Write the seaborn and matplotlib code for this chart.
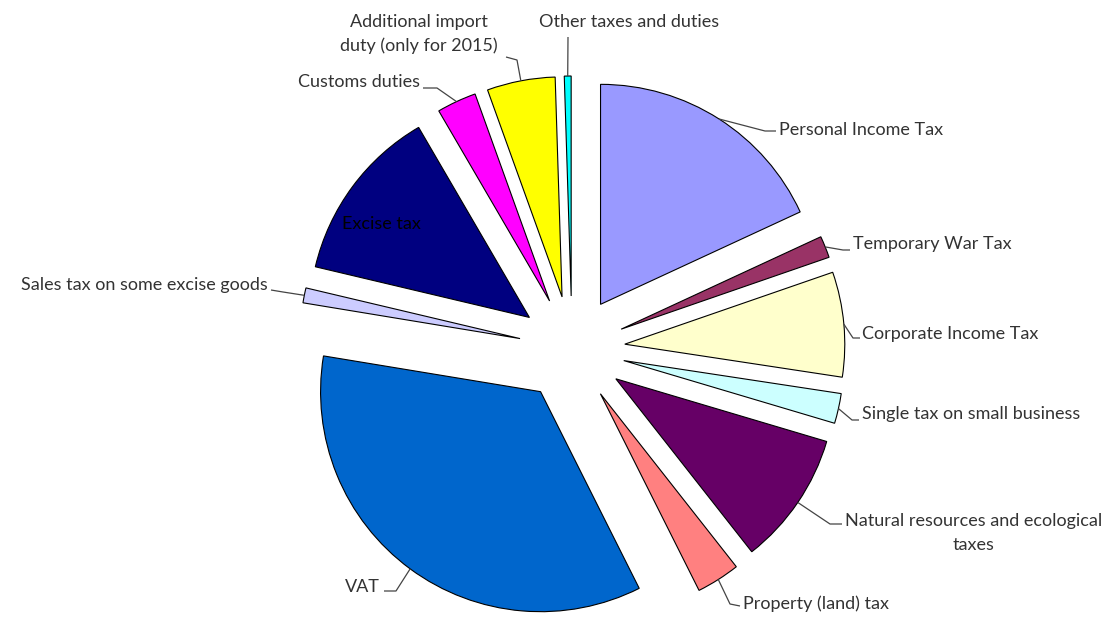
import numpy as np
import matplotlib
matplotlib.use("Agg")
import matplotlib.pyplot as plt
import seaborn as sns

categories = ["Personal Income Tax", "Temporary War Tax", "Corporate Income Tax",
              "Single tax on small business",
              "Natural resources and ecological\ntaxes",
              "Property (land) tax", "VAT", "Sales tax on some excise goods",
              "Excise tax", "Customs duties",
              "Additional import\nduty (only for 2015)", "Other taxes and duties"]
shares = [18.1, 1.6, 7.7, 2.2, 9.8, 3.2, 35.0, 1.1, 12.9, 2.9, 5.0, 0.5]
colors = ["#9999FF", "#993366", "#FFFFCC", "#CCFFFF", "#660066", "#FF8080",
          "#0066CC", "#CCCCFF", "#000080", "#FF00FF", "#FFFF00", "#00FFFF"]

sns.set_theme(style="white")
plt.rcParams['font.family'] = ['Lato', 'DejaVu Sans']

W, H = 1118, 619
fig = plt.figure(figsize=(W / 100, H / 100), dpi=100)
ax = fig.add_axes([0, 0, 1, 1])
cx, cy = 572, H - 349
R = 220
wedges, _ = ax.pie(shares, colors=colors, startangle=90, counterclock=False,
                   explode=[53] * len(shares), radius=R, center=(cx, cy),
                   wedgeprops=dict(edgecolor="black", linewidth=0.8))
ax.set_xlim(0, W)
ax.set_ylim(0, H)
ax.set_aspect('equal')
ax.axis('off')

# label layout in image pixel coords: leader path after arc point, text pos, alignment
layout = [
    ([(765, 131), (776, 131)], (779, 130), 'left'),
    ([(843, 250), (850, 250)], (853, 244), 'left'),
    ([(853, 338), (860, 338)], (862, 334), 'left'),
    ([(852, 420), (859, 420)], (862, 414), 'left'),
    ([(830, 524), (842, 524)], (845, 533), 'left'),
    ([(730, 604), (740, 606)], (743, 604), 'left'),
    ([(396, 591), (384, 591)], (380, 587), 'right'),
    ([(283, 292), (271, 290)], (268, 285), 'right'),
    (None, (381, 224), 'center'),
    ([(437, 88), (423, 88)], (420, 82), 'right'),
    ([(517, 60), (506, 57)], (419, 34), 'center'),
    ([(568, 37)], (629, 22), 'center'),
]

txt_color = "#333333"
for w, lab, (path, (tx, ty), ha) in zip(wedges, categories, layout):
    if path is not None:
        tm = np.deg2rad((w.theta1 + w.theta2) / 2)
        x0 = w.center[0] + R * np.cos(tm)
        y0 = w.center[1] + R * np.sin(tm)
        xs = [x0] + [p[0] for p in path]
        ys = [y0] + [H - p[1] for p in path]
        ax.plot(xs, ys, color="#444444", lw=0.9, solid_capstyle='butt')
    ax.text(tx, H - ty, lab, ha=ha, va='center', multialignment='center',
            fontsize=13, color="black" if lab == "Excise tax" else txt_color,
            linespacing=1.55)

fig.savefig("out.png", dpi=100, facecolor="white")
